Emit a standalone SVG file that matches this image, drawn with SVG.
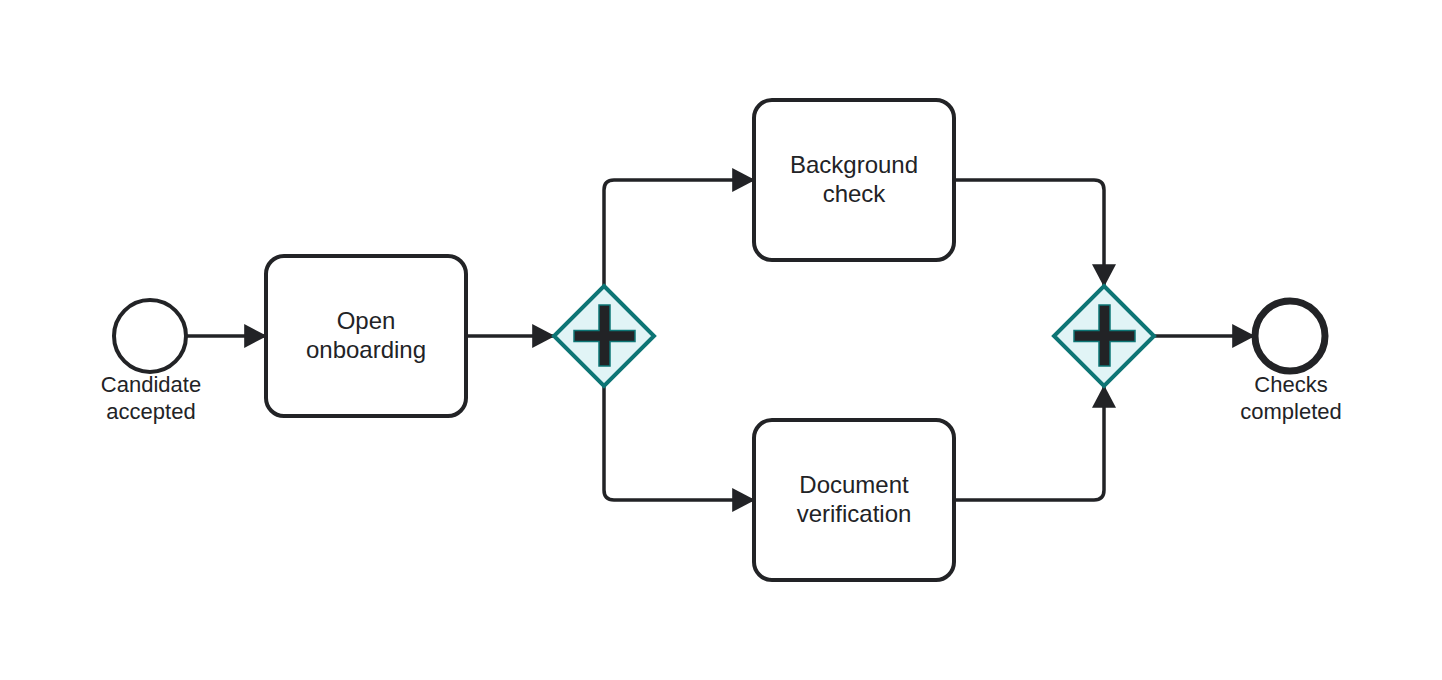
<svg xmlns="http://www.w3.org/2000/svg" width="1442" height="680" viewBox="0 0 1442 680">
<defs>
<marker id="arr" markerUnits="userSpaceOnUse" markerWidth="24" markerHeight="24" refX="20" refY="11" orient="auto" viewBox="0 0 22 22">
<path d="M0,0 L21,11 L0,22 z" fill="#222326"/>
</marker>
<style>
.task{fill:#fff;stroke:#222326;stroke-width:4}
.ev{fill:#fff;stroke:#222326}
.gw{fill:#e1f4f6;stroke:#0d7575;stroke-width:4;stroke-linejoin:miter}
.plus{fill:#222326;stroke:#0d7575;stroke-width:1.5}
.flow{fill:none;stroke:#222326;stroke-width:3.5;marker-end:url(#arr)}
.t{font-family:"Liberation Sans",Arial,sans-serif;font-size:24px;fill:#222326;text-anchor:middle}
.l{font-family:"Liberation Sans",Arial,sans-serif;font-size:22px;fill:#222326;text-anchor:middle}
</style>
</defs>
<rect width="1442" height="680" fill="#fff"/>
<g id="connectors">
<path class="flow" d="M186,336 H266"/>
<path class="flow" d="M466,336 H554"/>
<path class="flow" d="M604,286 V190 Q604,180 614,180 H754"/>
<path class="flow" d="M604,386 V490 Q604,500 614,500 H754"/>
<path class="flow" d="M954,180 H1094 Q1104,180 1104,190 V286"/>
<path class="flow" d="M954,500 H1094 Q1104,500 1104,490 V386"/>
<path class="flow" d="M1154,336 H1254"/>
</g>
<g id="start">
<circle class="ev" cx="150" cy="336" r="36" stroke-width="4"/>
<text class="l" x="151" y="392">Candidate</text>
<text class="l" x="151" y="419">accepted</text>
</g>
<g id="open-onboarding">
<rect class="task" x="266" y="256" width="200" height="160" rx="18"/>
<text class="t" x="366" y="329">Open</text>
<text class="t" x="366" y="358">onboarding</text>
</g>
<g id="gateway-split">
<path class="gw" d="M604,286 L654,336 L604,386 L554,336 Z"/>
<path class="plus" d="M599,305 H610 V330.5 H635 V341.5 H610 V366 H599 V341.5 H574 V330.5 H599 Z"/>
</g>
<g id="background-check">
<rect class="task" x="754" y="100" width="200" height="160" rx="18"/>
<text class="t" x="854" y="173">Background</text>
<text class="t" x="854" y="202">check</text>
</g>
<g id="document-verification">
<rect class="task" x="754" y="420" width="200" height="160" rx="18"/>
<text class="t" x="854" y="493">Document</text>
<text class="t" x="854" y="522">verification</text>
</g>
<g id="gateway-join">
<path class="gw" d="M1104,286 L1154,336 L1104,386 L1054,336 Z"/>
<path class="plus" d="M1099,305 H1110 V330.5 H1135 V341.5 H1110 V366 H1099 V341.5 H1074 V330.5 H1099 Z"/>
</g>
<g id="end">
<circle class="ev" cx="1290" cy="336" r="35" stroke-width="7"/>
<text class="l" x="1291" y="392">Checks</text>
<text class="l" x="1291" y="419">completed</text>
</g>
</svg>
